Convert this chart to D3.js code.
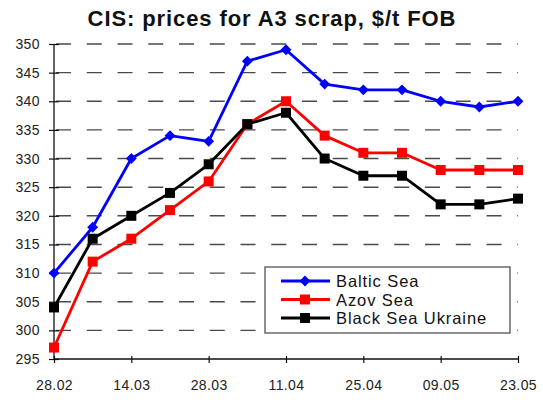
<html>
<meta charset="utf-8">

<head>
    <script src="https://d3js.org/d3.v7.min.js"></script>
    <style>
        body {
            margin: 0;
            background: #fff;
        }

        * {
            font-family: "Liberation Sans", Arial, sans-serif
        }

        .tickLabel {
            font-size: 14px;
            letter-spacing: 0.4px;
            fill: #222;
        }

        .legendLabel {
            font-size: 16.5px;
            letter-spacing: 0.9px;
            fill: #111;
        }
    </style>
</head>

<svg id='chart' height="400" width="543"></svg>

<script>
    // weekly dates, only every second one gets a label
    const dates = ['28.02', '07.03', '14.03', '21.03', '28.03', '04.04', '11.04',
        '18.04', '25.04', '02.05', '09.05', '16.05', '23.05'];
    const balticSea = [310, 318, 330, 334, 333, 347, 349, 343, 342, 342, 340, 339, 340];
    const azovSea = [297, 312, 316, 321, 326, 336, 340, 334, 331, 331, 328, 328, 328];
    const blackSeaUkraine = [304, 316, 320, 324, 329, 336, 338, 330, 327, 327, 322, 322, 323];
    const yTicks = [295, 300, 305, 310, 315, 320, 325, 330, 335, 340, 345, 350];

    const series = [
        { name: 'Baltic Sea', values: balticSea, color: '#0000ff', shape: 'diamond' },
        { name: 'Azov Sea', values: azovSea, color: '#ff0000', shape: 'square' },
        { name: 'Black Sea Ukraine', values: blackSeaUkraine, color: '#000000', shape: 'square' }
    ];

    const svg = d3.select('svg#chart');
    const plot = { left: 54, right: 518, top: 44, bottom: 359 };

    const xScale = d3.scalePoint().domain(dates).range([plot.left, plot.right]);
    const yScale = d3.scaleLinear().domain([295, 350]).range([plot.bottom, plot.top]);

    // title
    svg.append('text')
        .text('CIS: prices for A3 scrap, $/t FOB')
        .attr('x', 272)
        .attr('y', 26)
        .attr('text-anchor', 'middle')
        .style('font-size', '22px')
        .style('letter-spacing', '0.9px')
        .style('font-weight', 'bold')
        .style('fill', '#111');

    // dashed gridlines
    svg.append('g').selectAll('line.grid')
        .data(yTicks.filter(d => d > 295))
        .join('line')
        .attr('class', 'grid')
        .attr('x1', plot.left + 2)
        .attr('x2', plot.right)
        .attr('y1', d => yScale(d))
        .attr('y2', d => yScale(d))
        .attr('stroke', '#4a4a4a')
        .attr('stroke-width', 1.4)
        .attr('stroke-dasharray', '15,15.75');

    // y axis
    let leftAxis = d3.axisLeft(yScale).tickValues(yTicks).tickSize(0).tickPadding(14);
    let yAxisG = svg.append('g')
        .attr('transform', `translate(${plot.left},0)`)
        .call(leftAxis);
    yAxisG.select('.domain').remove();
    yAxisG.selectAll('text').attr('class', 'tickLabel').attr('font-size', null).attr('fill', null);
    yAxisG.selectAll('.tick').append('line')
        .attr('x1', -5).attr('x2', 5)
        .attr('stroke', '#111').attr('stroke-width', 1.2);
    svg.append('line')
        .attr('x1', plot.left).attr('x2', plot.left)
        .attr('y1', plot.top).attr('y2', plot.bottom)
        .attr('stroke', '#111').attr('stroke-width', 1.3);

    // x axis
    let bottomAxis = d3.axisBottom(xScale)
        .tickValues(dates.filter((d, i) => i % 2 == 0))
        .tickSize(0).tickPadding(21);
    let xAxisG = svg.append('g')
        .attr('transform', `translate(0,${plot.bottom})`)
        .call(bottomAxis);
    xAxisG.select('.domain').remove();
    xAxisG.selectAll('text').attr('class', 'tickLabel').attr('font-size', null).attr('fill', null);
    xAxisG.selectAll('.tick').append('line')
        .attr('y1', -3).attr('y2', 4)
        .attr('stroke', '#111').attr('stroke-width', 1.2);
    svg.append('line')
        .attr('x1', plot.left).attr('x2', plot.right)
        .attr('y1', plot.bottom).attr('y2', plot.bottom)
        .attr('stroke', '#111').attr('stroke-width', 1.3);

    // lines + markers
    const lineGen = d3.line()
        .x((d, i) => xScale(dates[i]))
        .y(d => yScale(d));

    const diamond = d3.symbol().type(d3.symbolDiamond2).size(75);
    const square = d3.symbol().type(d3.symbolSquare).size(100);

    series.forEach(s => {
        let g = svg.append('g');
        g.append('path')
            .attr('d', lineGen(s.values))
            .attr('fill', 'none')
            .attr('stroke', s.color)
            .attr('stroke-width', 2.8)
            .attr('stroke-linejoin', 'round');
        g.selectAll('path.marker')
            .data(s.values)
            .join('path')
            .attr('class', 'marker')
            .attr('d', s.shape == 'diamond' ? diamond() : square())
            .attr('transform', (d, i) => `translate(${xScale(dates[i])},${yScale(d)})`)
            .attr('fill', s.color);
    });

    // legend
    let legend = svg.append('g');
    legend.append('rect')
        .attr('x', 265).attr('y', 267)
        .attr('width', 245).attr('height', 66)
        .attr('fill', '#fff')
        .attr('stroke', '#444')
        .attr('stroke-width', 1.2);

    let rows = legend.selectAll('g.row')
        .data(series)
        .join('g')
        .attr('class', 'row')
        .attr('transform', (d, i) => `translate(0,${281 + i * 18.5})`);
    rows.append('line')
        .attr('x1', 281).attr('x2', 330)
        .attr('stroke', d => d.color)
        .attr('stroke-width', 2.8);
    rows.append('path')
        .attr('d', d => d.shape == 'diamond' ? diamond() : square())
        .attr('transform', 'translate(305,0)')
        .attr('fill', d => d.color);
    rows.append('text')
        .attr('class', 'legendLabel')
        .attr('x', 336)
        .attr('y', 6)
        .text(d => d.name);
</script>

</html>
